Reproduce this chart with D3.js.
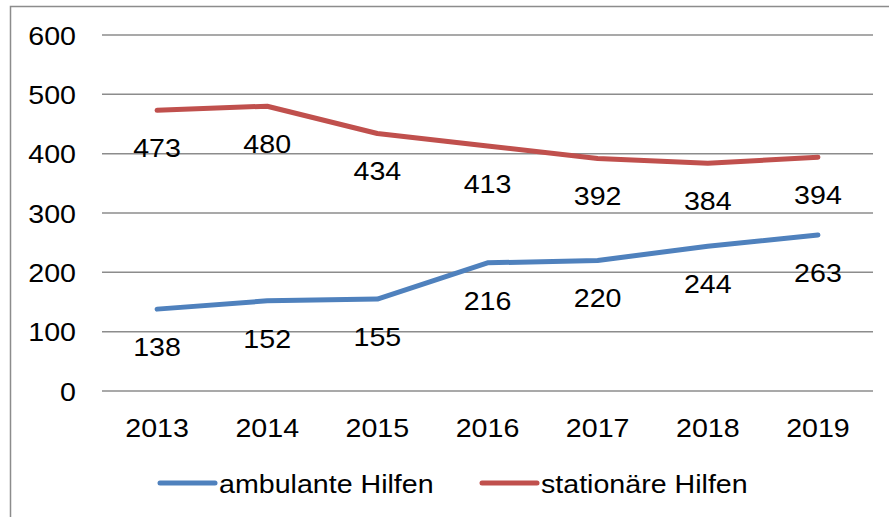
<!DOCTYPE html>
<html>
<head>
    <meta charset="utf-8">
    <style>
        body { margin: 0; background: white; }
        svg { display: block; font-family: 'Liberation Sans', Arial, sans-serif; }
    </style>
</head>
<body>
    <svg width="889" height="517"></svg>

<script src="https://d3js.org/d3.v7.min.js"></script>
<script>
    // data
    let years = ["2013", "2014", "2015", "2016", "2017", "2018", "2019"];
    let ambulant = [138, 152, 155, 216, 220, 244, 263];
    let stationaer = [473, 480, 434, 413, 392, 384, 394];
    let yTicks = [0, 100, 200, 300, 400, 500, 600];
    let seriesNames = ["ambulante Hilfen", "stationäre Hilfen"];
    let seriesColors = ["#4f81bd", "#c0504d"];

    let svg = d3.select("svg");
    let stretch = 1.1; // text in the picture is slightly wider than Arial

    // outer frame
    svg.append("rect")
        .attr("x", 10.5)
        .attr("y", 6.5)
        .attr("width", 900)
        .attr("height", 600)
        .style("fill", "none")
        .style("stroke", "#8c8c8c")
        .style("stroke-width", 1.5);

    let x = d3.scaleBand()
        .domain(years)
        .range([102, 873]);

    let y = d3.scaleLinear()
        .domain([0, 600])
        .range([391, 35]);

    function addText(g, txt, px, py, anchor) {
        g.append("text")
            .text(txt)
            .attr("transform", "translate(" + px + "," + py + ") scale(" + stretch + ",1)")
            .attr("text-anchor", anchor)
            .style("font-size", "26px")
            .style("fill", "#000");
    }

    // gridlines
    svg.append("g")
        .selectAll("line")
        .data(yTicks)
        .join("line")
        .attr("x1", 102)
        .attr("x2", 873)
        .attr("y1", d => y(d))
        .attr("y2", d => y(d))
        .style("stroke", "#8c8c8c")
        .style("stroke-width", 1.5);

    // y labels
    let yLab = svg.append("g");
    yTicks.forEach(t => addText(yLab, t, 76, y(t) + 9.5, "end"));

    // x labels
    let xLab = svg.append("g");
    years.forEach(yr => addText(xLab, yr, x(yr) + x.bandwidth() / 2, 437, "middle"));

    let line = d3.line()
        .x((d, i) => x(years[i]) + x.bandwidth() / 2)
        .y(d => y(d));

    [ambulant, stationaer].forEach((series, k) => {
        svg.append("path")
            .attr("d", line(series))
            .style("fill", "none")
            .style("stroke", seriesColors[k])
            .style("stroke-width", 5)
            .style("stroke-linejoin", "round")
            .style("stroke-linecap", "round");

        let lab = svg.append("g");
        series.forEach((v, i) => addText(lab, v, x(years[i]) + x.bandwidth() / 2, y(v) + 47, "middle"));
    });

    // legend
    let legendX = [160, 482];
    let leg = svg.append("g");
    seriesNames.forEach((name, k) => {
        leg.append("line")
            .attr("x1", legendX[k])
            .attr("x2", legendX[k] + 55)
            .attr("y1", 483)
            .attr("y2", 483)
            .style("stroke", seriesColors[k])
            .style("stroke-width", 5)
            .style("stroke-linecap", "round");
        addText(leg, name, legendX[k] + 59, 493, "start");
    });
</script>
</body>
</html>
